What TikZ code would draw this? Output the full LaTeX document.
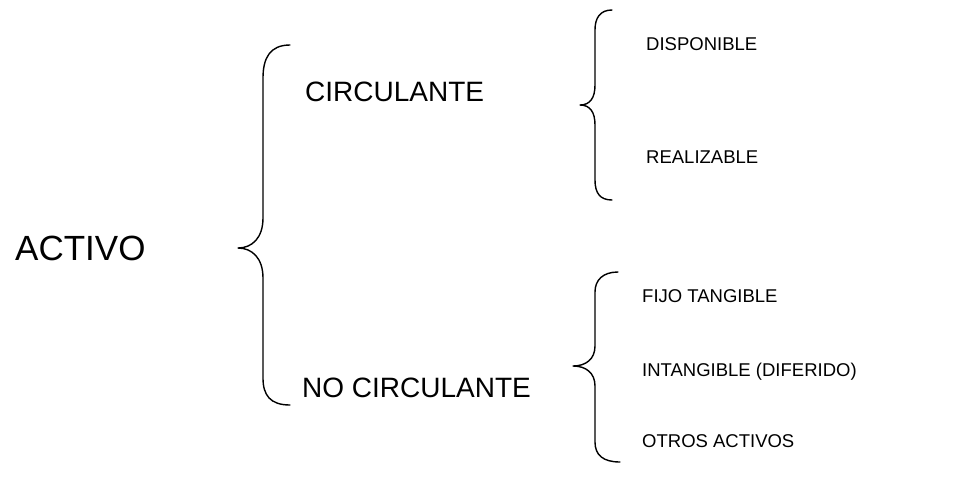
\documentclass[tikz,border=0pt]{standalone}
\usepackage{fontspec}
\setmainfont{Liberation Sans}
\begin{document}
\begin{tikzpicture}[x=1pt,y=-1pt,
  lbl/.style={anchor=base west,inner sep=0pt,text=black},
  big/.style={lbl,font=\fontsize{35}{40}\selectfont},
  mid/.style={lbl,font=\fontsize{28}{32}\selectfont},
  sml/.style={lbl,font=\fontsize{18.5}{22}\selectfont},
  brace/.style={draw=black,line width=1.4pt,line cap=round,line join=round}]
\useasboundingbox[fill=white] (0,0) rectangle (970,483);
\node[big] (activo) at (15,260.5) {ACTIVO};
\node[mid] (circ) at (305,101.5) {CIRCULANTE};
\node[mid] (nocirc) at (302,397) {NO CIRCULANTE};
\node[sml] (disp) at (646,50.5) {DISPONIBLE};
\node[sml] (real) at (646,163.5) {REALIZABLE};
\node[sml] (fijo) at (642,302.5) {FIJO TANGIBLE};
\node[sml] (intan) at (642,376.5) {INTANGIBLE (DIFERIDO)};
\node[sml] (otros) at (642,447) {OTROS ACTIVOS};
% big brace
\draw[brace] (290,45) .. controls (270,45) and (263,58) .. (263,78) -- (263,218)
  .. controls (263,238) and (252,248) .. (238,248)
  .. controls (252,248) and (263,258) .. (263,278) -- (263,378)
  .. controls (263,395) and (270,405) .. (290,405);
% brace 1
\draw[brace] (612,10) .. controls (600,10) and (595,18) .. (595,30) -- (595,85)
  .. controls (595,98) and (590,105) .. (580,105)
  .. controls (590,105) and (595,112) .. (595,125) -- (595,180)
  .. controls (595,193) and (600,200) .. (612,200);
% brace 2
\draw[brace] (618,272) .. controls (603,272) and (595,280) .. (595,292) -- (595,346)
  .. controls (595,359) and (586,366) .. (573,366)
  .. controls (586,366) and (595,373) .. (595,386) -- (595,442)
  .. controls (595,455) and (603,462) .. (620,462);
\end{tikzpicture}
\end{document}
